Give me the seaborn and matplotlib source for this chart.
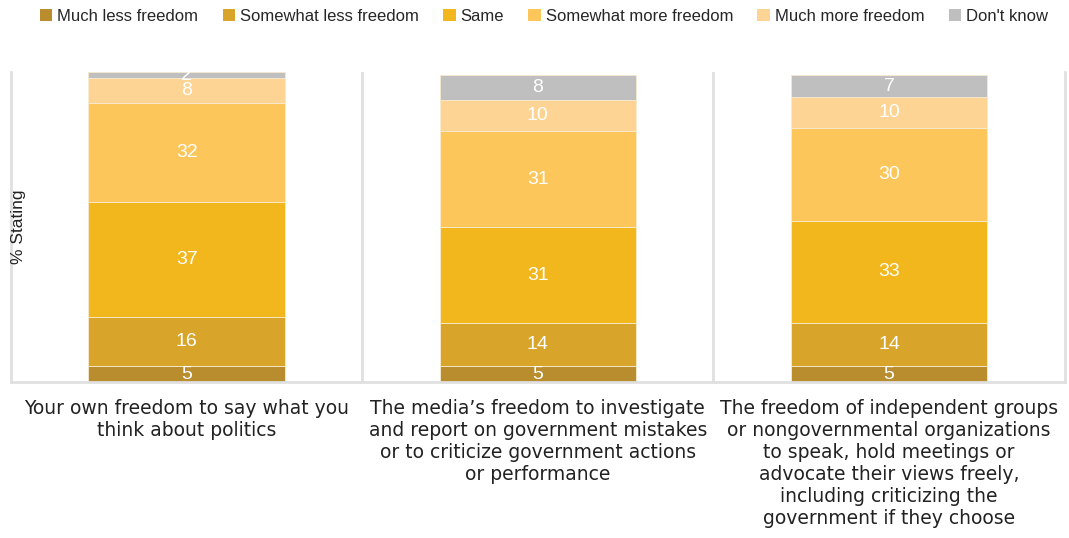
import matplotlib
matplotlib.use("Agg")
import matplotlib.pyplot as plt
from matplotlib import font_manager
from matplotlib.patches import Patch
import numpy as np
import pandas as pd
import seaborn as sns

categories = [
    "Your own freedom to say what you\nthink about politics",
    "The media\u2019s freedom to investigate\nand report on government mistakes\nor to criticize government actions\nor performance",
    "The freedom of independent groups\nor nongovernmental organizations\nto speak, hold meetings or\nadvocate their views freely,\nincluding criticizing the\ngovernment if they choose",
]
responses = ["Much less freedom", "Somewhat less freedom", "Same",
             "Somewhat more freedom", "Much more freedom", "Don't know"]
much_less = [5, 5, 5]
somewhat_less = [16, 14, 14]
same = [37, 31, 33]
somewhat_more = [32, 31, 30]
much_more = [8, 10, 10]
dont_know = [2, 8, 7]
colors = ["#B98C2D", "#D8A52A", "#F2B71D", "#FCC65B", "#FDD493", "#BFBFBF"]

series = [much_less, somewhat_less, same, somewhat_more, much_more, dont_know]

available = {f.name for f in font_manager.fontManager.ttflist}
narrow = "Liberation Sans Narrow" if "Liberation Sans Narrow" in available else "Liberation Sans"

sns.set_theme(style="white")
plt.rcParams["font.family"] = [narrow, "DejaVu Sans"]

fig = plt.figure(figsize=(10.69, 5.38), dpi=100)
ax = fig.add_axes([0.0103, 0.29, 0.9857, 0.576])

df = pd.DataFrame({"category": categories})
bottom = np.zeros(len(categories))
for name, vals, col in zip(responses, series, colors):
    df[name] = vals
    sns.barplot(data=df, x="category", y=name, color=col, bottom=bottom,
                width=0.56, saturation=1, edgecolor="#F7EBD0", linewidth=0.6,
                ax=ax, order=categories, errorbar=None)
    for i, v in enumerate(vals):
        ax.text(i, bottom[i] + v / 2, f"{v}", ha="center", va="center",
                color="white", fontsize=14, family=[narrow, "DejaVu Sans"])
    bottom = bottom + np.array(vals)

ax.set_ylim(0, 100)
ax.set_xlim(-0.5, 2.5)
ax.set_yticks([])
ax.set_xlabel("")
ax.set_ylabel("")
fig.text(0.017, 0.578, "% Stating", rotation=90, ha="center", va="center",
         fontsize=12.5, color="#222222")

for x in [0.5, 1.5]:
    ax.axvline(x, color="#E0E0E0", linewidth=2, zorder=0)

for side in ["left", "bottom", "right"]:
    ax.spines[side].set_color("#E0E0E0")
    ax.spines[side].set_linewidth(2)
ax.spines["top"].set_visible(False)

ax.tick_params(axis="x", length=0, pad=12)
for lbl in ax.get_xticklabels():
    lbl.set_fontfamily(["DejaVu Sans"])
    lbl.set_fontsize(13.5)
    lbl.set_linespacing(1.2)
    lbl.set_color("#222222")
    lbl.set_va("top")

handles = [Patch(facecolor=c, edgecolor="none", label=r) for r, c in zip(responses, colors)]
fig.legend(handles=handles, loc="upper center", bbox_to_anchor=(0.509, 1.012), ncol=6,
           frameon=False, handlelength=0.75, handleheight=0.75,
           handletextpad=0.3, columnspacing=1.45,
           prop={"family": [narrow, "DejaVu Sans"], "size": 12})

fig.savefig("out.png", dpi=100, facecolor="white")
